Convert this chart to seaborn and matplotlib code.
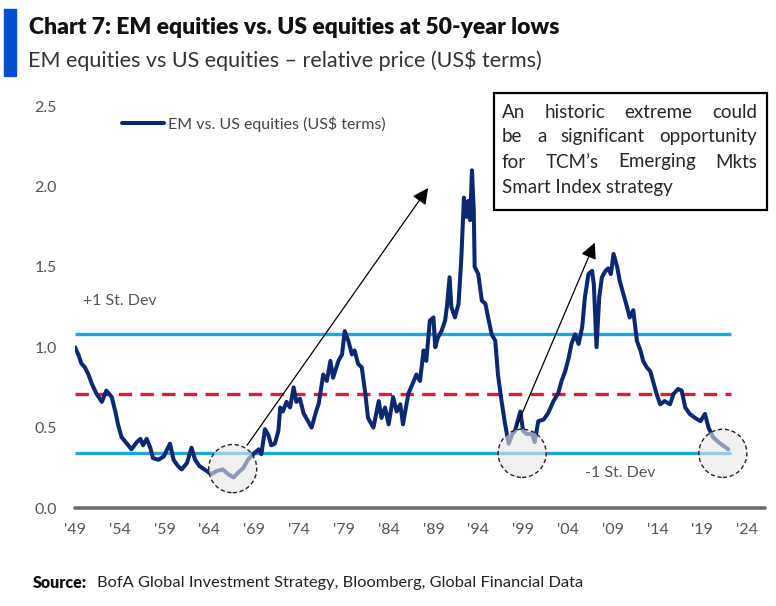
import matplotlib
matplotlib.use("Agg")
import matplotlib.pyplot as plt
from matplotlib.patches import Ellipse, Rectangle
import pandas as pd
import seaborn as sns

# relative price, EM vs US equities
years = [
    1949.0, 1949.4, 1949.7, 1950.1, 1950.5, 1950.9, 1951.4, 1952.0, 1952.5, 1953.1,
    1953.5, 1953.8, 1954.2, 1954.8, 1955.3, 1955.9, 1956.3, 1956.6, 1957.0, 1957.4,
    1957.7, 1958.3, 1958.9, 1959.2, 1959.6, 1960.0, 1960.5, 1960.9, 1961.5, 1962.0,
    1962.4, 1962.9, 1963.7, 1964.2, 1964.8, 1965.5, 1966.1, 1966.7, 1967.2, 1967.8,
    1968.3, 1968.9, 1969.5, 1969.8, 1970.2, 1970.6, 1970.9, 1971.3, 1971.7, 1971.9,
    1972.2, 1972.6, 1973.0, 1973.4, 1973.7, 1974.1, 1974.5, 1975.0, 1975.4, 1975.9,
    1976.2, 1976.7, 1977.1, 1977.5, 1977.8, 1978.4, 1978.8, 1979.1, 1979.5, 1979.9,
    1980.2, 1980.6, 1981.0, 1981.4, 1981.7, 1982.3, 1982.9, 1983.2, 1983.6, 1984.0,
    1984.5, 1984.9, 1985.3, 1985.6, 1986.2, 1986.8, 1987.1, 1987.5, 1987.9, 1988.2,
    1988.6, 1989.0, 1989.2, 1989.5, 1989.9, 1990.3, 1990.5, 1990.8, 1991.0, 1991.4,
    1991.8, 1992.1, 1992.4, 1992.7, 1992.9, 1993.1, 1993.3, 1993.5, 1993.6, 1994.0,
    1994.4, 1994.8, 1995.1, 1995.5, 1995.9, 1996.2, 1996.6, 1997.0, 1997.4, 1997.8,
    1998.1, 1998.7, 1999.0, 1999.4, 2000.0, 2000.3, 2000.7, 2001.3, 2001.8, 2002.4,
    2002.9, 2003.3, 2003.7, 2004.1, 2004.4, 2004.8, 2005.2, 2005.6, 2005.9, 2006.3,
    2006.7, 2006.9, 2007.2, 2007.5, 2007.8, 2008.2, 2008.5, 2008.8, 2009.1, 2009.5,
    2009.8, 2010.2, 2010.6, 2010.9, 2011.3, 2011.7, 2012.1, 2012.4, 2012.8, 2013.2,
    2013.5, 2013.9, 2014.3, 2014.8, 2015.4, 2015.8, 2016.3, 2016.7, 2017.1, 2017.6,
    2018.2, 2018.8, 2019.3, 2019.7, 2020.2, 2020.8, 2021.4, 2021.9,
]
ratio = [
    1.00, 0.95, 0.90, 0.875, 0.83, 0.77, 0.71, 0.66, 0.73, 0.69,
    0.60, 0.52, 0.44, 0.40, 0.365, 0.41, 0.43, 0.39, 0.43, 0.375,
    0.31, 0.30, 0.32, 0.355, 0.40, 0.30, 0.26, 0.24, 0.28, 0.375,
    0.30, 0.26, 0.23, 0.21, 0.23, 0.24, 0.21, 0.19, 0.22, 0.25,
    0.30, 0.335, 0.365, 0.335, 0.49, 0.45, 0.39, 0.40, 0.48, 0.625,
    0.60, 0.66, 0.625, 0.75, 0.66, 0.68, 0.59, 0.54, 0.50, 0.60,
    0.65, 0.83, 0.79, 0.915, 0.81, 0.915, 0.955, 1.10, 1.04, 0.955,
    0.98, 0.895, 0.875, 0.71, 0.56, 0.50, 0.665, 0.56, 0.625, 0.52,
    0.69, 0.60, 0.645, 0.52, 0.71, 0.79, 0.83, 0.79, 0.98, 0.915,
    1.165, 1.185, 1.00, 1.06, 1.10, 1.165, 1.25, 1.435, 1.25, 1.185,
    1.27, 1.54, 1.93, 1.81, 1.91, 1.79, 2.10, 1.85, 1.50, 1.455,
    1.29, 1.27, 1.185, 1.08, 1.04, 0.83, 0.665, 0.52, 0.40, 0.46,
    0.48, 0.60, 0.48, 0.46, 0.46, 0.41, 0.54, 0.55, 0.59, 0.665,
    0.71, 0.79, 0.85, 0.935, 1.02, 1.08, 1.02, 1.125, 1.31, 1.455,
    1.475, 1.39, 1.00, 1.31, 1.435, 1.475, 1.49, 1.455, 1.58, 1.50,
    1.41, 1.33, 1.25, 1.185, 1.23, 1.04, 0.98, 0.915, 0.875, 0.85,
    0.79, 0.71, 0.645, 0.665, 0.645, 0.71, 0.74, 0.73, 0.625, 0.585,
    0.56, 0.54, 0.585, 0.50, 0.44, 0.41, 0.385, 0.365,
]

mean_level = 0.71
plus_sd = 1.08
minus_sd = 0.34

tick_years = list(range(1949, 2025, 5))
tick_labels = ["'" + str(y)[2:] for y in tick_years]
y_ticks = [0.0, 0.5, 1.0, 1.5, 2.0, 2.5]

# circled lows (year, level)
lows = [(1966.6, 0.245), (1998.9, 0.34), (2021.3, 0.34)]
# arrows: (start year, start level, tip year, tip level)
arrows = [(1968.2, 0.39, 1988.4, 1.99), (1998.3, 0.51, 2007.0, 1.65)]

note_lines = [
    "An historic extreme could",
    "be a significant opportunity",
    "for TCM\u2019s Emerging Mkts",
    "Smart Index strategy",
]

NAVY = "#0c2870"
CYAN = "#1ea5e2"
RED = "#d2203d"
GREY = "#555555"

sns.set_style("white")
plt.rcParams["font.family"] = ["Lato", "DejaVu Sans"]

W, H = 776, 606
fig = plt.figure(figsize=(W / 100, H / 100), dpi=100)
ax = fig.add_axes([75 / W, 1 - 508 / H, 690 / W, 402 / H])

df = pd.DataFrame({"year": years, "ratio": ratio})
sns.lineplot(data=df, x="year", y="ratio", ax=ax, color=NAVY, lw=2.9,
             label="EM vs. US equities (US\\$ terms)", zorder=3)

ax.hlines([plus_sd, minus_sd], 1949, 2022.2, color=CYAN, lw=2.4, zorder=2)
ax.hlines(mean_level, 1949, 2022.2, color=RED, lw=2.4, linestyles=(0, (4, 2.5)), zorder=2)
ax.axhline(0, color="#6e6e6e", lw=2.6, clip_on=False, zorder=1)

for cx, cy in lows:
    ax.add_patch(Ellipse((cx, cy), 5.36, 0.30, facecolor=(0.9, 0.9, 0.9, 0.6),
                         edgecolor="#222222", ls=(0, (3, 2)), lw=1.0, zorder=4))

for x0, y0, x1, y1 in arrows:
    ax.annotate("", xy=(x1, y1), xytext=(x0, y0),
                arrowprops=dict(arrowstyle="-|>", color="black", lw=0.9,
                                mutation_scale=24, shrinkA=0, shrinkB=0), zorder=5)

ax.text(1949.9, 1.29, "+1 St. Dev", color=GREY, fontsize=11.5, va="center")
ax.text(2009.8, 0.22, "-1 St. Dev", color=GREY, fontsize=11.5, va="center", ha="center")

ax.set_xlim(1949, 2026)
ax.set_ylim(0, 2.5)
ax.set_xticks(tick_years)
ax.set_xticklabels(tick_labels)
ax.set_yticks(y_ticks)
ax.set_yticklabels([f"{v:.1f}" for v in y_ticks])
ax.tick_params(axis="both", length=0, labelsize=11.5, labelcolor=GREY)
ax.tick_params(axis="y", pad=13)
ax.tick_params(axis="x", pad=11)
ax.set_xlabel("")
ax.set_ylabel("")
sns.despine(ax=ax, left=True, bottom=True)

leg = ax.legend(loc="upper left", bbox_to_anchor=(47 / 690, 0.975), frameon=False,
                fontsize=11.5, handlelength=2.6, handletextpad=0.25,
                borderpad=0, borderaxespad=0)
for t in leg.get_texts():
    t.set_color("#444444")

# headings
fig.patches.append(Rectangle((4 / W, 1 - 76 / H), 12 / W, 67 / H,
                             transform=fig.transFigure, color="#0050d0"))
fig.text(29 / W, 1 - 28 / H, "Chart 7: EM equities vs. US equities at 50-year lows",
         fontsize=16.5, fontweight="heavy", color="#111111", va="center")
fig.text(28 / W, 1 - 60 / H, "EM equities vs US equities \u2013 relative price (US$ terms)",
         fontsize=15.5, color="#333333", va="center")
fig.text(33 / W, 1 - 583 / H, "Source:", fontsize=11.5, fontweight="heavy",
         color="#111111", va="center")
fig.text(97 / W, 1 - 583 / H, "BofA Global Investment Strategy, Bloomberg, Global Financial Data",
         fontsize=11.8, color="#222222", va="center")

# note box with justified lines
fig.patches.append(Rectangle((494 / W, 1 - 210 / H), 273 / W, 117 / H,
                             transform=fig.transFigure, facecolor="white",
                             edgecolor="black", lw=1.6, zorder=6))
renderer = fig.canvas.get_renderer()
left_px, right_px = 502, 757
line_y = [112, 136, 162, 188]
for i, line in enumerate(note_lines):
    words = line.split()
    ypos = 1 - line_y[i] / H
    if i == len(note_lines) - 1:
        fig.text(left_px / W, ypos, line, fontsize=13.5, va="center", zorder=7)
        continue
    items = [fig.text(0, ypos, w, fontsize=13.5, va="center", zorder=7) for w in words]
    widths = [it.get_window_extent(renderer).width for it in items]
    gap = (right_px - left_px - sum(widths)) / (len(words) - 1)
    x = left_px
    for it, w in zip(items, widths):
        it.set_x(x / W)
        x += w + gap

fig.savefig("out.png", dpi=100)
